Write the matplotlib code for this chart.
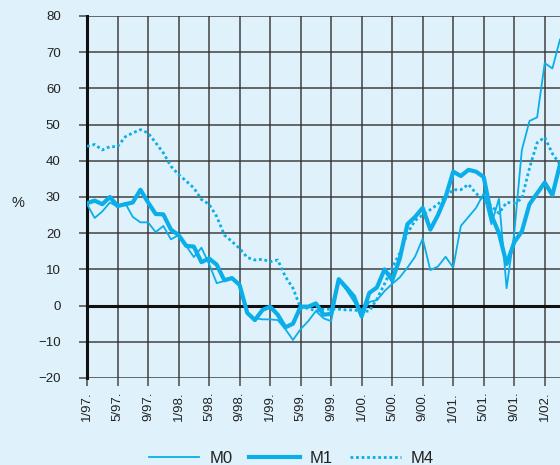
import matplotlib.pyplot as plt

plt.rcParams['font.family'] = ['Liberation Sans', 'DejaVu Sans']

# monthly values, 1/97 .. 3/02
months = list(range(63))
m0 = [28, 24.2, 26, 28.5, 27.3, 28.3, 24.5, 23, 23, 20.3,
      22, 18.3, 19.5, 16.5, 13.4, 16, 11.5, 6.2, 6.8, 7.5,
      5.5, -2, -3.5, -3.8, -3.8, -4, -6.5, -9.5, -6.5, -4.3,
      -1.5, -3.5, -4.3, 7, 4.3, 1.1, -2.5, 1, 1.5, 4,
      6, 7.8, 10.5, 13.5, 18.5, 9.8, 10.8, 13.5, 10.5, 22,
      24.5, 27, 31, 22.5, 29.5, 4.8, 20, 43, 51, 52,
      67, 65.5, 73.5]
m1 = [28.3, 29, 28, 30, 27.5, 28, 28.5, 32, 28.5, 25.3,
      25.2, 21, 19.5, 16.5, 16.3, 12, 13, 11.3, 7, 7.6,
      5.7, -2, -4, -1.2, -0.3, -2.5, -6, -5, -0.3, -0.3,
      0.6, -2.5, -2.3, 7.3, 5, 2.5, -3, 3.5, 5, 10,
      7, 13, 22.5, 24.5, 27, 21, 25, 30, 37, 35.8,
      37.5, 37, 35.5, 25, 20, 11.5, 17.5, 20.5, 28, 31,
      34, 30.5, 39]
m4 = [44, 44.5, 43, 43.9, 43.9, 46.6, 47.7, 48.6, 47.7, 45,
      42.2, 38.5, 36.2, 34.4, 32.5, 29.3, 28, 24.6, 19.5, 17.7,
      15.8, 13.3, 12.6, 12.8, 12.1, 12.6, 8, 4.8, -0.7, -0.7,
      -1.5, -1, -1, -1, -1.2, -1.2, -1.6, -1.5, 1.8, 6,
      10.5, 14.5, 20, 23.5, 25, 26.5, 28, 30, 32, 32,
      33.5, 31, 29, 27.5, 25.5, 28.5, 28.3, 29.5, 38, 45,
      46.5, 42, 39]

tick_pos = list(range(0, 61, 4))
tick_labels = ['1/97.', '5/97.', '9/97.', '1/98.', '5/98.', '9/98.', '1/99.', '5/99.',
               '9/99.', '1/00.', '5/00.', '9/00.', '1/01.', '5/01.', '9/01.', '1/02.']

bg = '#dff1fb'
cyan = '#0aaee8'
grid_c = '#333333'

fig = plt.figure(figsize=(5.6, 4.65), dpi=100, facecolor=bg)
ax = fig.add_axes([0.1554, 0.1871, 0.8446, 0.7785])
ax.set_facecolor(bg)

ax.plot(months, m0, color=cyan, lw=1.3, label='M0', zorder=4)
ax.plot(months, m1, color=cyan, lw=3.0, label='M1', zorder=5)
ax.plot(months, m4, color=cyan, lw=2.0, dashes=(1, 1), label='M4', zorder=3)

ax.set_xlim(0, 62)
ax.set_ylim(-20, 80)
ax.set_yticks(range(-20, 81, 10))
ax.set_xticks(tick_pos)
ax.set_xticklabels(tick_labels, rotation=90, va='top', ha='center')

ax.grid(True, color=grid_c, lw=1.2, alpha=0.85)
ax.set_axisbelow(True)
ax.axhline(0, color='#111111', lw=2.2, zorder=2)
ax.tick_params(axis='both', length=6, width=1.2, color='#555555', labelsize=9.5, labelcolor='#222222')
ax.tick_params(axis='y', pad=13)
ax.tick_params(axis='x', pad=4)

for s in ['top', 'right', 'bottom']:
    ax.spines[s].set_visible(False)
ax.spines['left'].set_color('#111111')
ax.spines['left'].set_linewidth(2.2)

fig.text(18 / 560, 1 - 203 / 465, '%', fontsize=10.5, ha='center', va='center', color='#222222')

fig.legend(loc='lower center', bbox_to_anchor=(0.52, -0.035), ncol=3, frameon=False,
           fontsize=12, handlelength=3.05, handletextpad=0.6, columnspacing=1.0,
           labelcolor='#222222')

fig.savefig('out.png', dpi=100, facecolor=bg)
